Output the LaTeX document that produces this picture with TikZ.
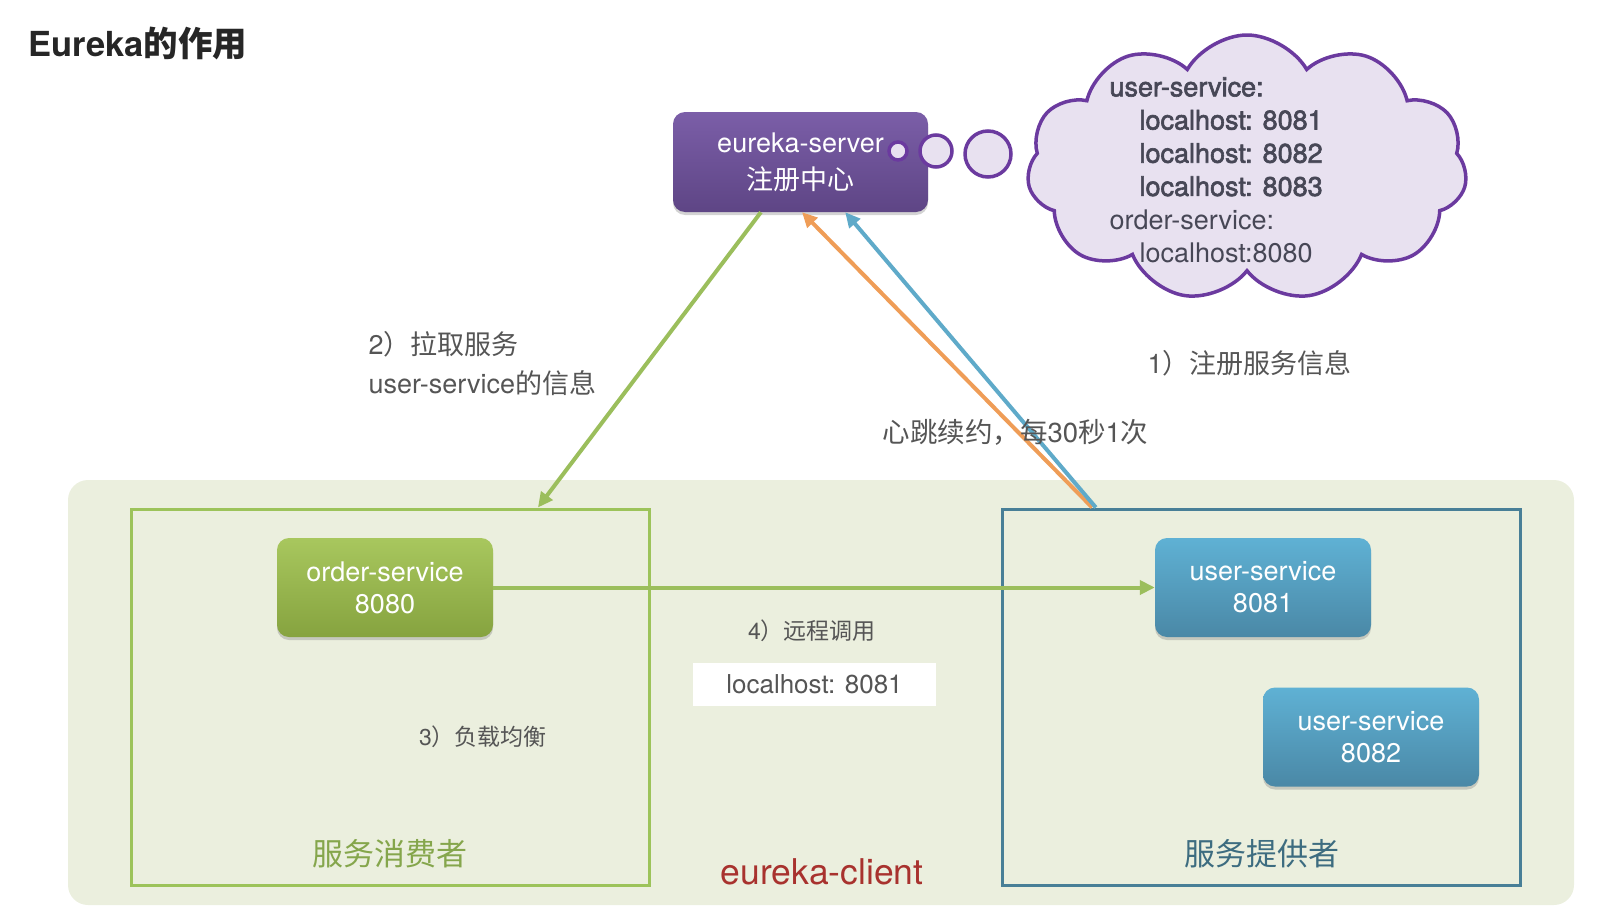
\documentclass[tikz,border=0pt]{standalone}
\usepackage{fontspec}
\setmainfont{TeX Gyre Heros}
\newfontfamily\cjk{Noto Sans CJK SC}
\newfontfamily\heavy[FakeBold=2.2]{TeX Gyre Heros}
\usetikzlibrary{arrows.meta,calc,shadows,shapes.symbols}
\definecolor{srvtop}{HTML}{7B5EA8}
\definecolor{srvbot}{HTML}{5E4585}
\definecolor{ordtop}{HTML}{A8C75E}
\definecolor{ordbot}{HTML}{86A33F}
\definecolor{usrtop}{HTML}{5FB1D4}
\definecolor{usrbot}{HTML}{4A88A6}
\definecolor{panelbg}{HTML}{EBEFDE}
\definecolor{consline}{HTML}{9CC35A}
\definecolor{provline}{HTML}{487F97}
\definecolor{cloudfill}{HTML}{E8E1F0}
\definecolor{cloudline}{HTML}{6B3A9F}
\definecolor{pullgreen}{HTML}{9BBE5C}
\definecolor{beatorange}{HTML}{EF9D57}
\definecolor{regblue}{HTML}{5FAAC9}
\definecolor{labelgray}{HTML}{555555}
\definecolor{cloudtext}{HTML}{474756}
\definecolor{clientred}{HTML}{A8322E}
\tikzset{
  svc/.style={rounded corners=12pt, minimum width=216pt, minimum height=99pt, text=white, align=center,
    font=\fontsize{27}{32}\selectfont, drop shadow={shadow xshift=0pt, shadow yshift=-3pt, opacity=0.35}},
  group/.style={line width=3pt, minimum width=518pt, minimum height=376pt},
  link/.style={line width=4pt, -{Triangle[length=15pt,width=14pt]}},
  note/.style={text=labelgray, font=\fontsize{27}{39}\selectfont, align=left},
  small/.style={text=labelgray, font=\fontsize{23}{28}\selectfont},
  bubble/.style={circle, draw=cloudline, fill=cloudfill, line width=3.5pt, inner sep=0pt}
}

\begin{document}
\begin{tikzpicture}[x=1pt, y=-1pt]
  \useasboundingbox (0,0) rectangle (1612,910);
  \node[anchor=west, font=\bfseries\fontsize{34.5}{40}\selectfont, text=black!85] (title) at (25,43) {Eureka{\cjk 的作用}};
  % client area
  \node[fill=panelbg, rounded corners=20pt, minimum width=1506pt, minimum height=425pt] (panel) at (821,692.5) {};
  \node[group, draw=consline] (consumer) at (390,697) {};
  \node[group, draw=provline] (provider) at (1261,697) {};
  \node[text=consline!85!black, font=\cjk\fontsize{31}{36}\selectfont] (conslabel) at (390,854) {服务消费者};
  \node[text=provline!85!black, font=\cjk\fontsize{31}{36}\selectfont] (provlabel) at (1262,854) {服务提供者};
  \node[text=clientred, font=\fontsize{35.5}{40}\selectfont] (clientlabel) at (822,872) {eureka-client};
  % server and its registry
  \node[svc, top color=srvtop, bottom color=srvbot, minimum width=255pt, minimum height=100pt, font=\fontsize{27}{37}\selectfont] (srv) at (800.5,162) {eureka-server\\{\cjk 注册中心}};
  \node[cloud, cloud puffs=11, cloud puff arc=120, aspect=1.66, draw=cloudline, fill=cloudfill, line width=3.5pt,
    minimum width=440pt, minimum height=266pt] (cloud) at (1247,168) {};
  \node[bubble, minimum size=18pt] (b1) at (898,151) {};
  \node[bubble, minimum size=32pt] (b2) at (936,151) {};
  \node[bubble, minimum size=46pt] (b3) at (988,154) {};
  \node[anchor=west, text=cloudtext, align=left, font=\fontsize{27}{33.2}\selectfont] (registry) at (1106,170)
    {{\heavy user-service:}\\\hspace*{30pt}{\heavy localhost: 8081}\\\hspace*{30pt}{\heavy localhost: 8082}\\\hspace*{30pt}{\heavy localhost: 8083}\\
     order-service:\\\hspace*{30pt}localhost:8080};
  % services
  \node[svc, top color=ordtop, bottom color=ordbot] (order) at (385,587.5) {order-service\\8080};
  \node[svc, top color=usrtop, bottom color=usrbot] (user1) at (1263,587.5) {user-service\\8081};
  \node[svc, top color=usrtop, bottom color=usrbot] (user2) at (1371,737) {user-service\\8082};
  % connectors
  \draw[link, pullgreen] ($(srv.south west)!0.345!(srv.south east)$) -- ($(consumer.north west)!0.784!(consumer.north east)$);
  \draw[link, beatorange] ($(provider.north west)!0.176!(provider.north east)$) -- ($(srv.south west)!0.506!(srv.south east)$);
  \draw[link, regblue] ($(provider.north west)!0.183!(provider.north east)$) -- ($(srv.south west)!0.675!(srv.south east)$);
  \draw[link, pullgreen] (order.east) -- (user1.west);
  % labels
  \node[note, anchor=west] (pull) at (365,363.5) {2{\cjk ）拉取服务}\\user-service{\cjk 的信息}};
  \node[note, anchor=west] (reg) at (1144,363) {1{\cjk ）注册服务信息}};
  \node[note, anchor=west, font=\fontsize{27.5}{33}\selectfont] (beat) at (879,432) {{\cjk 心跳续约，每}30{\cjk 秒}1{\cjk 次}};
  \node[small] (call) at (812,631) {4{\cjk ）远程调用}};
  \node[fill=white, minimum width=243pt, minimum height=43pt, text=labelgray, font=\fontsize{26}{30}\selectfont] (addr) at (814.5,684.5) {localhost: 8081};
  \node[small] (lb) at (483,737) {3{\cjk ）负载均衡}};
\end{tikzpicture}
\end{document}
